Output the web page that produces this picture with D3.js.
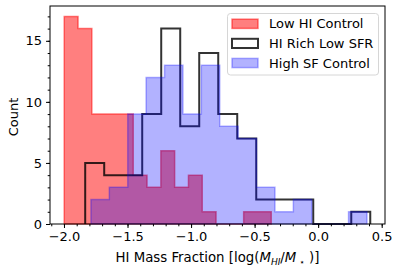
<!DOCTYPE html>
<html>
<head>
<meta charset="utf-8">
<script src="https://cdn.jsdelivr.net/npm/d3@7"></script>
<style>
  body { margin: 0; background: #fff; }
  text { font-family: "DejaVu Sans", sans-serif; fill: #000; }
</style>
</head>
<body>
<div id="chart"></div>
<script>
// histogram counts (15 bins each) and the data range they span
var lowHICounts = [17, 16, 9, 9, 9, 4, 3, 6, 3, 4, 1, 0, 0, 1, 1]
var lowHIRange = [-1.998, -0.369]

var hiRichCounts = [5, 4, 4, 9, 16, 8, 14, 9, 7, 2, 2, 2, 0, 0, 1]
var hiRichRange = [-1.833, 0.410]

var highSFCounts = [2, 3, 9, 12, 13, 9, 13, 8, 7, 3, 1, 2, 0, 0, 1]
var highSFRange = [-1.788, 0.384]

var legendLabels = ["Low HI Control", "HI Rich Low SFR", "High SF Control"]
var xTicks = [-2.0, -1.5, -1.0, -0.5, 0.0, 0.5]
var yTicks = [0, 5, 10, 15]

var svgWidth = 400
var svgHeight = 274
var margin = { top: 6, right: 15, bottom: 50, left: 50 }
var width = svgWidth - margin.left - margin.right
var height = svgHeight - margin.top - margin.bottom

var svg = d3.select("#chart")
  .append("svg")
  .attr("width", svgWidth)
  .attr("height", svgHeight)

var chartGroup = svg.append("g")
  .attr("transform", `translate(${margin.left}, ${margin.top})`)

var xScale = d3.scaleLinear()
  .domain([-2.11, 0.526])
  .range([0, width])

var yScale = d3.scaleLinear()
  .domain([0, 17.85])
  .range([height, 0])

// turn counts + range into step points like matplotlib's hist outline
function stepPoints(counts, range) {
  var n = counts.length
  var edge = d3.scaleLinear().domain([0, n]).range(range)
  var pts = [[edge(0), 0]]
  counts.forEach(function(c, i) {
    pts.push([edge(i), c])
    pts.push([edge(i + 1), c])
  })
  pts.push([edge(n), 0])
  return pts
}

var line = d3.line()
  .x(d => xScale(d[0]))
  .y(d => yScale(d[1]))

// red stepfilled
chartGroup.append("path")
  .attr("d", line(stepPoints(lowHICounts, lowHIRange)) + "Z")
  .attr("fill", "rgba(255,0,0,0.5)")
  .attr("stroke", "rgba(255,0,0,0.5)")
  .attr("stroke-width", 1.5)

// black step
chartGroup.append("path")
  .attr("d", line(stepPoints(hiRichCounts, hiRichRange)))
  .attr("fill", "none")
  .attr("stroke", "rgba(0,0,0,0.8)")
  .attr("stroke-width", 2)

// blue stepfilled
chartGroup.append("path")
  .attr("d", line(stepPoints(highSFCounts, highSFRange)) + "Z")
  .attr("fill", "rgba(0,0,255,0.3)")
  .attr("stroke", "rgba(0,0,255,0.3)")
  .attr("stroke-width", 1.5)

// axes
var bottomAxis = d3.axisBottom(xScale)
  .tickValues(xTicks)
  .tickSize(4)
  .tickPadding(4)
  .tickFormat(d => d3.format(".1f")(d).replace("-", "\u2212"))

var leftAxis = d3.axisLeft(yScale)
  .tickValues(yTicks)
  .tickSize(4)
  .tickPadding(4)
  .tickFormat(d3.format("d"))

var xMinor = d3.axisBottom(xScale)
  .tickValues(d3.range(-21, 6).map(d => d / 10))
  .tickSize(2.3)
  .tickFormat("")

var yMinor = d3.axisLeft(yScale)
  .tickValues(d3.range(0, 18))
  .tickSize(2.3)
  .tickFormat("")

chartGroup.append("g")
  .attr("transform", `translate(0, ${height})`)
  .call(xMinor)
  .call(g => g.select(".domain").remove())

chartGroup.append("g")
  .call(yMinor)
  .call(g => g.select(".domain").remove())

chartGroup.append("g")
  .attr("transform", `translate(0, ${height})`)
  .call(bottomAxis)
  .call(g => g.select(".domain").remove())
  .selectAll("text")
  .style("font-size", "13px")

chartGroup.append("g")
  .call(leftAxis)
  .call(g => g.select(".domain").remove())
  .selectAll("text")
  .style("font-size", "13px")

// frame
chartGroup.append("rect")
  .attr("x", 0)
  .attr("y", 0)
  .attr("width", width)
  .attr("height", height)
  .attr("fill", "none")
  .attr("stroke", "#000")
  .attr("stroke-width", 1)

// axis labels
chartGroup.append("text")
  .attr("transform", "rotate(-90)")
  .attr("x", -height / 2 - 2)
  .attr("y", -32)
  .attr("text-anchor", "middle")
  .style("font-size", "13px")
  .text("Count")

var xLabel = chartGroup.append("text")
  .attr("x", width / 2)
  .attr("y", height + 38)
  .attr("text-anchor", "middle")
  .style("font-size", "13.3px")

xLabel.append("tspan").text("HI Mass Fraction [log(")
xLabel.append("tspan").style("font-style", "italic").text("M")
xLabel.append("tspan").style("font-style", "italic").style("font-size", "9px").attr("dy", 3).text("HI")
xLabel.append("tspan").attr("dy", -3).text("/")
xLabel.append("tspan").style("font-style", "italic").text("M")
xLabel.append("tspan").style("font-size", "9px").attr("dy", 3).text(" \u22C6")
xLabel.append("tspan").attr("dy", -3).text(" )]")

// legend
var legend = svg.append("g")
  .attr("transform", "translate(227.5, 13.5)")

legend.append("rect")
  .attr("width", 151)
  .attr("height", 61.5)
  .attr("rx", 3)
  .attr("fill", "rgba(255,255,255,0.8)")
  .attr("stroke", "#d6d6d6")
  .attr("stroke-width", 1)

var legendStyles = [
  { fill: "rgba(255,0,0,0.5)", stroke: "rgba(255,0,0,0.5)", w: 1.5 },
  { fill: "none", stroke: "rgba(0,0,0,0.8)", w: 2 },
  { fill: "rgba(0,0,255,0.3)", stroke: "rgba(0,0,255,0.3)", w: 1.5 }
]

var items = legend.selectAll(".item")
  .data(legendLabels)
  .enter()
  .append("g")
  .attr("transform", (d, i) => `translate(0, ${10.3 + i * 19.6})`)

items.append("rect")
  .attr("x", 4.5)
  .attr("y", -4.6)
  .attr("width", 26)
  .attr("height", 9.2)
  .attr("fill", (d, i) => legendStyles[i].fill)
  .attr("stroke", (d, i) => legendStyles[i].stroke)
  .attr("stroke-width", (d, i) => legendStyles[i].w)

items.append("text")
  .attr("x", 41.5)
  .attr("y", 0)
  .attr("dy", "0.36em")
  .style("font-size", "13px")
  .text(d => d)
</script>
</body>
</html>
